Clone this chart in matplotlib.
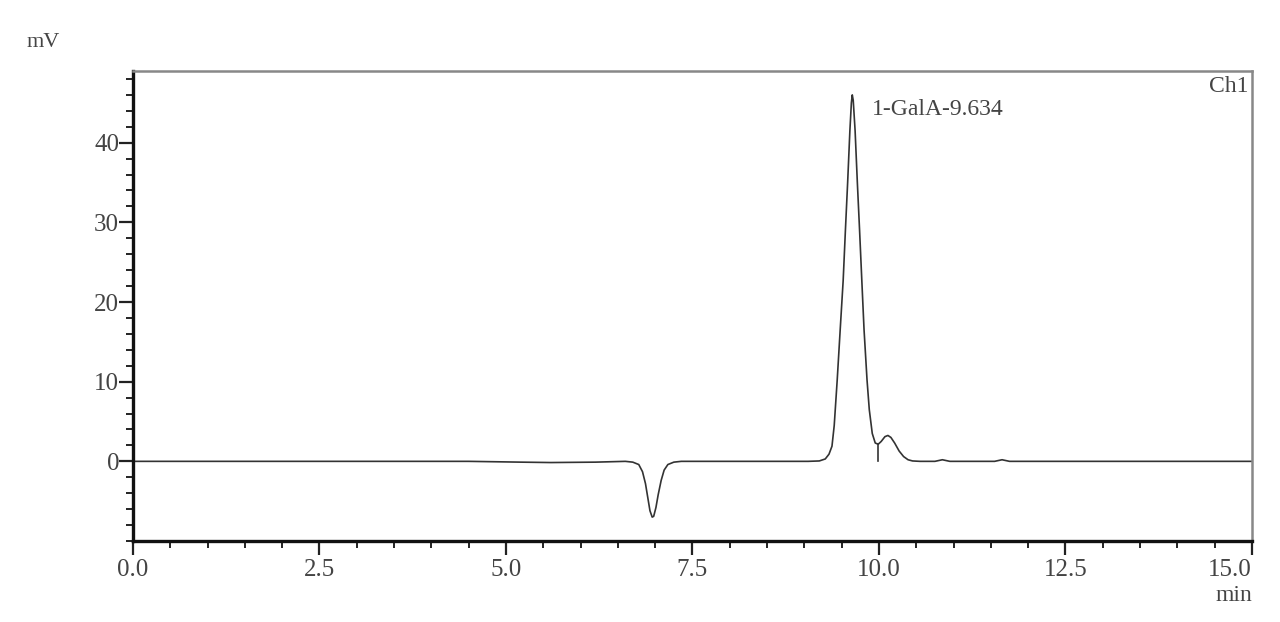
import numpy as np
import matplotlib
matplotlib.use('Agg')
from matplotlib import pyplot as plt
from matplotlib.ticker import MultipleLocator, FixedLocator, FormatStrFormatter

time_min = [0.0, 2.0, 4.5, 5.2, 5.6, 6.2, 6.6, 6.70, 6.78, 6.83, 6.87, 6.90, 6.93,
            6.96, 6.98, 7.01, 7.04, 7.08, 7.12, 7.17, 7.25, 7.35, 8.5, 9.05,
            9.20, 9.28, 9.33, 9.37, 9.40, 9.44, 9.48, 9.52, 9.55, 9.58, 9.61,
            9.63, 9.642, 9.655, 9.68, 9.71, 9.74, 9.77, 9.80, 9.84, 9.87, 9.91,
            9.95, 9.99, 10.03, 10.08, 10.12, 10.16, 10.21, 10.27, 10.33, 10.39,
            10.45, 10.55, 10.75, 10.85, 10.95, 11.3, 11.55, 11.65, 11.75, 12.1, 15.0]
signal_mv = [0.0, 0.0, 0.0, -0.1, -0.15, -0.1, 0.0, -0.1, -0.4, -1.3, -2.8, -4.5, -6.2,
             -7.0, -6.9, -5.8, -4.2, -2.4, -1.1, -0.4, -0.1, 0.0, 0.0, 0.0,
             0.05, 0.3, 0.9, 1.9, 4.5, 10.2, 16.5, 22.7, 29.0, 35.0, 41.5,
             45.0, 46.0, 45.3, 41.5, 35.0, 29.0, 22.7, 16.5, 10.2, 6.5, 3.5,
             2.3, 2.15, 2.5, 3.1, 3.25, 3.0, 2.3, 1.3, 0.6, 0.2,
             0.05, 0.0, 0.0, 0.2, 0.0, 0.0, 0.0, 0.2, 0.0, 0.0, 0.0]

# Pico integrado
peak_label = '1-GalA-9.634'
peak_time = 9.634
drop_time = 9.99
drop_height = 2.15
x_labels = [0.0, 2.5, 5.0, 7.5, 10.0, 12.5, 15.0]
y_labels = [0, 10, 20, 30, 40]

serif = ['Liberation Serif', 'DejaVu Serif']
plt.rcParams['font.family'] = serif

fig = plt.figure(figsize=(12.8, 6.22), dpi=100)
ax = fig.add_axes([0.1039, 0.1302, 0.8742, 0.7557])

ax.plot(time_min, signal_mv, color='#333333', linewidth=1.2)
ax.plot([drop_time, drop_time], [0, drop_height], color='#333333', linewidth=1.2)

ax.set_xlim(0, 15)
ax.set_ylim(-10, 49)

ax.set_xticks(x_labels, ['%.1f' % v for v in x_labels])
ax.xaxis.set_minor_locator(MultipleLocator(0.5))
ax.yaxis.set_major_locator(FixedLocator(y_labels))
ax.yaxis.set_minor_locator(MultipleLocator(2))
ax.yaxis.set_major_formatter(FormatStrFormatter('%d'))

ax.tick_params(axis='both', which='major', length=10, width=1.6, labelsize=18,
               colors='#222222', labelcolor='#444444')
ax.tick_params(axis='both', which='minor', length=5, width=1.4, colors='#222222')
ax.tick_params(axis='y', which='major', pad=0)
ax.tick_params(axis='x', which='major', pad=3)

for side in ['left', 'bottom']:
    ax.spines[side].set_linewidth(2.4)
    ax.spines[side].set_color('#111111')
for side in ['top', 'right']:
    ax.spines[side].set_linewidth(1.8)
    ax.spines[side].set_color('#888888')

# La ultima etiqueta del eje x queda alineada a la derecha
for lbl in ax.get_xticklabels():
    if lbl.get_text() == '15.0':
        lbl.set_horizontalalignment('right')

# Textos
ax.text(peak_time + 0.27, 44.2, peak_label, fontsize=17, color='#444444',
        va='center', ha='left')
ax.text(0.997, 0.99, 'Ch1', transform=ax.transAxes, fontsize=17,
        color='#444444', ha='right', va='top')
fig.text(0.034, 0.932, 'mV', fontsize=16, color='#444444', ha='center', va='center')
fig.text(0.978, 0.043, 'min', fontsize=17, color='#444444', ha='right', va='center')

fig.savefig('out.png', dpi=100)
plt.close()
